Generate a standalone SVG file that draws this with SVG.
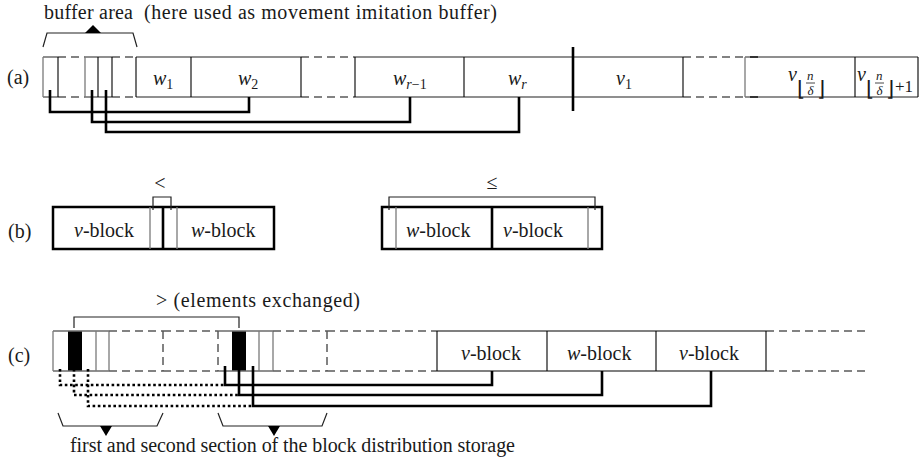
<svg xmlns="http://www.w3.org/2000/svg" width="920" height="461" viewBox="0 0 920 461" font-family="'Liberation Serif', 'DejaVu Serif', serif">
  <style>
    .t { font-family: "Liberation Serif", "Times New Roman", serif; font-size: 20px; fill: #1a1a1a; }
    .m { font-style: italic; }
    .sub { font-size: 14px; }
    .fl { font-size: 21px; font-style: normal; }
    .fr { font-size: 13px; font-style: italic; }
    .pl { font-size: 17px; font-style: normal; }
    .thin { stroke: #000; stroke-width: 1.1; fill: none; }
    .edge { stroke: #6b6b6b; stroke-width: 1.6; fill: none; }
    .gray { stroke: #7a7a7a; stroke-width: 1.3; fill: none; }
    .dash { stroke: #5a5a5a; stroke-width: 1.5; stroke-dasharray: 8 5; fill: none; }
    .bold { stroke: #000; stroke-width: 2.6; fill: none; }
    .conn { stroke: #000; stroke-width: 2.6; fill: none; stroke-linejoin: miter; }
    .dot { stroke: #000; stroke-width: 2.6; stroke-dasharray: 2.6 2.6; fill: none; }
    .brk { stroke: #222; stroke-width: 1.2; fill: none; }
  </style>

  <!-- row labels -->
  <text class="t" x="7" y="84">(a)</text>
  <text class="t" x="8" y="238">(b)</text>
  <text class="t" x="8" y="362">(c)</text>

  <!-- (a) buffer area caption and brace -->
  <g id="buffer-caption">
    <text class="t" x="44" y="19" textLength="89" lengthAdjust="spacing">buffer area</text>
    <text class="t" x="144" y="19" textLength="353" lengthAdjust="spacing">(here used as movement imitation buffer)</text>
    <path class="brk" d="M43,47 L47,33 H133 L137,47"/>
    <path d="M85,33 L93,25 L101,33 Z" fill="#000"/>
  </g>

  <!-- (a) array -->
  <g id="array-a">
    <!-- top and bottom borders -->
    <g class="edge">
      <path d="M43,57 H58 M85,57 H112 M136,57 H301 M355,57 H683 M745,57 H918"/>
      <path d="M43,97 H58 M85,97 H112 M136,97 H301 M355,97 H683 M745,97 H918"/>
    </g>
    <g class="dash">
      <path d="M58,57 H85 M112,57 H136 M301,57 H355 M683,57 H745"/>
      <path d="M58,97 H85 M112,97 H136 M301,97 H355 M683,97 H745"/>
    </g>
    <!-- cell walls -->
    <path class="gray" d="M43,57 V97 M85,57 V97 M745,57 V97"/>
    <path class="thin" d="M58,57 V97 M98,57 V97 M112,57 V97 M136,57 V97 M191,57 V97 M301,57 V97 M355,57 V97 M464,57 V97 M683,57 V97 M855,57 V97 M918,57 V97"/>
    <path d="M750,57 H758 M750,97 H758" stroke="#333" stroke-width="2"/>
    <!-- separator between w and v parts -->
    <path class="bold" d="M573,47 V111" stroke-width="3"/>
  </g>

  <g id="label-w1"><text class="t" x="153" y="85"><tspan class="m">w</tspan><tspan class="sub" dy="4">1</tspan></text></g>
  <g id="label-w2"><text class="t" x="238" y="85"><tspan class="m">w</tspan><tspan class="sub" dy="4">2</tspan></text></g>
  <g id="label-wr1"><text class="t" x="393" y="85"><tspan class="m">w</tspan><tspan class="sub" dy="4"><tspan class="m">r</tspan>−1</tspan></text></g>
  <g id="label-wr"><text class="t" x="508" y="85"><tspan class="m">w</tspan><tspan class="sub m" dy="4">r</tspan></text></g>
  <g id="label-v1"><text class="t" x="616" y="85"><tspan class="m">v</tspan><tspan class="sub" dy="4">1</tspan></text></g>
  <g id="label-vfloor">
    <text class="t"><tspan class="m" x="788" y="81">v</tspan><tspan class="fl" x="797" y="96">⌊</tspan><tspan class="fr" x="807" y="80">n</tspan><tspan class="fr" x="807.5" y="95">δ</tspan><tspan class="fl" x="817" y="96">⌋</tspan></text>
    <line x1="806" y1="83" x2="815" y2="83" stroke="#1a1a1a" stroke-width="0.8"/>
  </g>
  <g id="label-vfloor1">
    <text class="t"><tspan class="m" x="857" y="81">v</tspan><tspan class="fl" x="866" y="96">⌊</tspan><tspan class="fr" x="876" y="80">n</tspan><tspan class="fr" x="876.5" y="95">δ</tspan><tspan class="fl" x="886" y="96">⌋</tspan><tspan class="pl" x="895" y="92">+1</tspan></text>
    <line x1="875" y1="83" x2="884" y2="83" stroke="#1a1a1a" stroke-width="0.8"/>
  </g>

  <!-- (a) connectors -->
  <g id="connectors-a" class="conn">
    <path d="M50,90 V112 H249 V97"/>
    <path d="M92,90 V122 H410 V97"/>
    <path d="M106,90 V132 H519 V97"/>
  </g>

  <!-- (b) left pair: v-block then w-block -->
  <g id="pair-vw">
    <rect x="53" y="207" width="221" height="42" stroke="#000" stroke-width="2.5" fill="none"/>
    <path class="gray" d="M150,207 V249 M177,207 V249"/>
    <path class="bold" d="M163,207 V250" stroke-width="3"/>
    <path class="brk" d="M153,210 V197 H171 V210"/>
    <text class="t" x="160" y="190" text-anchor="middle">&lt;</text>
    <text class="t" x="74" y="237"><tspan class="m">v</tspan>-block</text>
    <text class="t" x="191" y="237"><tspan class="m">w</tspan>-block</text>
  </g>

  <!-- (b) right pair: w-block then v-block -->
  <g id="pair-wv">
    <rect x="382" y="207" width="220" height="42" stroke="#000" stroke-width="2.5" fill="none"/>
    <path class="gray" d="M396,207 V249 M588,207 V249"/>
    <path class="bold" d="M492,207 V249" stroke-width="2.6"/>
    <path class="brk" d="M389,210 V197 H595 V210"/>
    <text class="t" x="492" y="189" text-anchor="middle">≤</text>
    <text class="t" x="406" y="237"><tspan class="m">w</tspan>-block</text>
    <text class="t" x="503" y="237"><tspan class="m">v</tspan>-block</text>
  </g>

  <!-- (c) exchange caption -->
  <g id="exchange-caption">
    <text class="t" x="156" y="307" textLength="204" lengthAdjust="spacing">&gt; (elements exchanged)</text>
    <path class="brk" d="M74,328 V317 H239 V328"/>
  </g>

  <!-- (c) first section of block distribution storage -->
  <g id="section-1">
    <rect x="68" y="331" width="14" height="40" fill="#000"/>
    <path class="edge" d="M53,331 H109 M53,371 H109"/>
    <path class="gray" d="M53,331 V371 M96,331 V371 M109,331 V371"/>
    <path class="dash" d="M109,331 H163 M109,371 H163 M163,331 V371"/>
  </g>

  <!-- (c) second section of block distribution storage -->
  <g id="section-2">
    <rect x="232" y="331" width="14" height="40" fill="#000"/>
    <path class="edge" d="M218,331 H273 M218,371 H273"/>
    <path class="dash" d="M218,331 V371"/>
    <path class="gray" d="M259,331 V371 M273,331 V371"/>
    <path class="dash" d="M273,331 H327 M273,371 H327 M327,331 V371"/>
  </g>

  <!-- (c) gaps between sections and blocks -->
  <path class="dash" d="M163,331 H218 M163,371 H218 M327,331 H437 M327,371 H437 M766,331 H868 M766,371 H868"/>

  <!-- (c) blocks -->
  <g id="blocks-c">
    <path class="thin" d="M437,331 H766 M437,371 H766 M437,331 V371 M547,331 V371 M656,331 V371 M766,331 V371"/>
    <text class="t" x="461" y="360"><tspan class="m">v</tspan>-block</text>
    <text class="t" x="567" y="360"><tspan class="m">w</tspan>-block</text>
    <text class="t" x="679" y="360"><tspan class="m">v</tspan>-block</text>
  </g>

  <!-- (c) connectors -->
  <g id="connectors-c">
    <g class="conn">
      <path d="M225,366 V385 H492 V371"/>
      <path d="M239,366 V395 H602 V371"/>
      <path d="M253,366 V406 H711 V371"/>
    </g>
    <g class="dot">
      <path d="M60,369 V385 H225"/>
      <path d="M74,369 V395 H239"/>
      <path d="M88,369 V406 H253"/>
    </g>
  </g>

  <!-- (c) storage braces and caption -->
  <g id="storage-caption">
    <path class="brk" d="M58,413 L63,426 H157 L163,413"/>
    <path d="M100,426 L112,426 L106,436 Z" fill="#000"/>
    <path class="brk" d="M218,413 L223,426 H322 L327,413"/>
    <path d="M268,426 L280,426 L274,436 Z" fill="#000"/>
    <text class="t" x="70" y="452" textLength="445" lengthAdjust="spacing">first and second section of the block distribution storage</text>
  </g>
</svg>
